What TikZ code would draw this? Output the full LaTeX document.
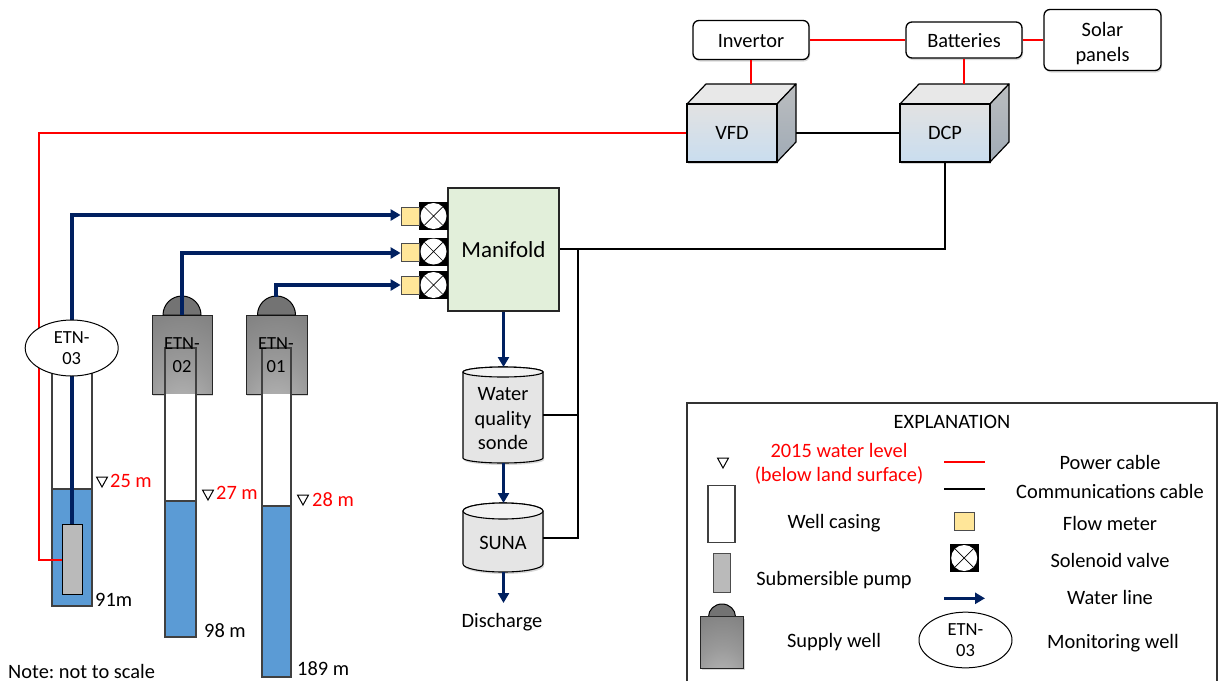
\documentclass[tikz,border=0pt]{standalone}
\usepackage{fontspec}
\setmainfont{Carlito}
\usetikzlibrary{arrows.meta,shapes.geometric,shadows}
\definecolor{waterline}{HTML}{002060}
\definecolor{waterfill}{HTML}{5B9BD5}
\definecolor{meterfill}{HTML}{FFE699}
\definecolor{manifoldfill}{HTML}{E2EFDA}
\definecolor{cubetop}{HTML}{E8E8E8}
\definecolor{cubefronta}{HTML}{E2E2E2}
\definecolor{cubefrontb}{HTML}{C9DDEF}
\definecolor{cubesidea}{HTML}{BBBDBF}
\definecolor{cubesideb}{HTML}{A0ABB6}
\definecolor{lred}{HTML}{FF0000}
\pgfdeclareradialshading{wellshade}{\pgfpoint{0bp}{-48bp}}{%
  color(0bp)=(black!24); color(30bp)=(black!40); color(60bp)=(black!52); color(100bp)=(black!60)}
\tikzset{
  softshadow/.style={drop shadow={shadow xshift=1pt,shadow yshift=-2pt,opacity=.3}},
  roundbox/.style={draw=black,line width=1.3pt,fill=white,rounded corners=6pt,inner sep=0pt,align=center,softshadow},
  txt/.style={inner sep=0pt,align=center,text height=13pt,text depth=0pt},
  multi/.style={inner sep=0pt,align=center},
  redtxt/.style={txt,text=lred},
  power/.style={draw=lred,line width=1.5pt},
  comm/.style={draw=black,line width=1.5pt},
  water/.style={draw=waterline,line width=3.2pt,-{Triangle[width=11pt,length=10pt]}},
  cubefront/.style={draw=black,line width=1.2pt,top color=cubefronta,bottom color=cubefrontb,inner sep=0pt,minimum width=90pt,minimum height=58pt,softshadow},
  casing/.style={draw=black!75,line width=1.1pt,inner sep=0pt},
  waterbox/.style={draw=black!75,line width=1.1pt,fill=waterfill,inner sep=0pt},
  pumpbox/.style={draw=black,line width=1pt,fill=black!27,inner sep=0pt},
  wellbox/.style={draw=black!85,line width=1pt,shading=wellshade,inner sep=0pt,softshadow},
  dome/.style={draw=black,line width=1pt,fill=black!55},
  metercell/.style={draw=black!70,line width=.8pt,fill=meterfill,inner sep=0pt},
  valvecell/.style={fill=black,inner sep=0pt,minimum width=29pt,minimum height=28pt},
  valvedisc/.style={circle,fill=white,inner sep=0pt,minimum size=26pt,
    path picture={\draw[line width=.7pt] (path picture bounding box.north west)--(path picture bounding box.south east)
      (path picture bounding box.north east)--(path picture bounding box.south west);}},
  wellellipse/.style={ellipse,draw=black,line width=1pt,fill=white,inner sep=0pt,align=center,font=\fontsize{18.5}{21.5}\selectfont},
  etnlabel/.style={inner sep=0pt,align=center,font=\fontsize{18.5}{23.5}\selectfont},
  levelmark/.style={draw=black,line width=1pt,fill=white,line join=miter},
  cyl/.style={draw=black,line width=1.1pt,fill=black!10},
}
\newcommand{\levelat}[2]{\draw[levelmark] (#1-5.5,#2-5) -- (#1+5.5,#2-5) -- (#1,#2+5) -- cycle;}
\newcommand{\cubesides}[1]{% #1 = left x of front
  \fill[cubetop,draw=black,line width=1.2pt,line join=round] (#1,104) -- (#1+19,84) -- (#1+109,84) -- (#1+90,104) -- cycle;
  \shade[top color=cubesidea,bottom color=cubesideb,draw=black,line width=1.2pt,line join=round] (#1+90,104) -- (#1+109,84) -- (#1+109,142) -- (#1+90,162) -- cycle;}
\frenchspacing
\begin{document}
\begin{tikzpicture}[x=1pt,y=-1pt,font=\fontsize{20.4}{24.5}\selectfont]
\useasboundingbox (0,0) rectangle (1218,681);

% ---- power & system boxes
\node[roundbox,text height=15pt,text depth=0pt,minimum width=116pt,minimum height=39pt] (inv) at (751,40) {Invertor};
\node[roundbox,text height=15pt,text depth=0pt,minimum width=116pt,minimum height=36pt] (bat) at (964,40) {Batteries};
\node[roundbox,minimum width=117pt,minimum height=61pt] (sol) at (1102.5,40) {};
\node[multi] (solt) at (1102.5,43.5) {Solar\\panels};

\cubesides{687}
\cubesides{900}
\node[cubefront] (vfd) at (732,133) {VFD};
\node[cubefront] (dcp) at (945,133) {DCP};
\coordinate (vfdtop) at (751,84);
\coordinate (vfdside) at (796,133);
\coordinate (dcptop) at (964,84);

% ---- manifold
\node[draw=black!85,line width=1.1pt,fill=manifoldfill,inner sep=0pt,minimum width=111pt,minimum height=123pt,font=\fontsize{23}{25}\selectfont] (man) at (503.5,249.5) {Manifold};
\node[valvecell] (v1) at (433.5,216) {};
\node[valvecell] (v2) at (433.5,251.5) {};
\node[valvecell] (v3) at (433.5,285) {};
\node[valvedisc] (d1) at (v1) {};
\node[valvedisc] (d2) at (v2) {};
\node[valvedisc] (d3) at (v3) {};
\node[metercell,minimum width=18pt,minimum height=18pt] (m1) at (410,216) {};
\node[metercell,minimum width=18pt,minimum height=18pt] (m2) at (410,252) {};
\node[metercell,minimum width=18pt,minimum height=18pt] (m3) at (410,285.5) {};

% ---- cylinders
\path[cyl,softshadow] (463,372) -- (463,458) arc[start angle=180,end angle=360,x radius=40pt,y radius=5pt] -- (543,372) arc[start angle=0,end angle=180,x radius=40pt,y radius=5pt] -- cycle;
\draw[line width=1.1pt,fill=white!95!black] (503,372) ellipse[x radius=40pt,y radius=5pt];
\node[multi,minimum width=80pt,minimum height=96pt] (sonde) at (503,419) {Water\\quality\\sonde};
\path[cyl,softshadow] (463,511) -- (463,564) arc[start angle=180,end angle=360,x radius=40pt,y radius=8pt] -- (543,511) arc[start angle=0,end angle=180,x radius=40pt,y radius=8pt] -- cycle;
\draw[line width=1.1pt,fill=white!95!black] (503,511) ellipse[x radius=40pt,y radius=8pt];
\node[txt,minimum width=80pt] (suna) at (503,543) {SUNA};
\coordinate (sondetop) at (503.5,367);
\coordinate (sondeleft) at (503.5,463);
\coordinate (sunatop) at (503.5,503);
\coordinate (sunabot) at (503.5,572);
\node[txt] (disc) at (502,621) {Discharge};
\coordinate (discend) at (503.5,603);
\coordinate (sondeport) at (543,415);
\coordinate (sunaport) at (543,538);

% ---- wells: casing, water
\node[casing,fill=white,minimum width=40pt,minimum height=236pt] (c3) at (72,488) {};
\node[waterbox,minimum width=40pt,minimum height=117pt] (w3) at (72,547.5) {};
\node[wellbox,minimum width=60pt,minimum height=79pt] (sw2) at (182,354.5) {};
\node[wellbox,minimum width=61pt,minimum height=79pt] (sw1) at (276.5,354.5) {};
\path[fill=white] (165,394) rectangle (196,501);
\path[fill=white] (262,394) rectangle (291,506);
\node[casing,minimum width=31pt,minimum height=289pt] (c2) at (180.5,492.5) {};
\node[casing,minimum width=29pt,minimum height=329pt] (c1) at (276.5,512.5) {};
\node[waterbox,minimum width=31pt,minimum height=136pt] (w2) at (180.5,569) {};
\node[waterbox,minimum width=29pt,minimum height=171pt] (w1) at (276.5,591.5) {};
\draw[dome] (163,315) arc[start angle=180,end angle=0,radius=19pt] -- cycle;
\draw[dome] (257.5,315) arc[start angle=180,end angle=0,radius=19pt] -- cycle;
\coordinate (dome2) at (182,315);
\coordinate (dome1) at (276,296.5);
\node[pumpbox,minimum width=20pt,minimum height=70pt] (pump) at (72,559.5) {};

% ---- cables
\draw[power] (inv.east) -- (bat.west);
\draw[power] (bat.east) -- (sol.west);
\draw[power] (inv.south) -- (vfdtop);
\draw[power] (bat.south) -- (dcptop);
\draw[power] (vfd.west) -- (39,133) -- (39,560) -- (pump.west |- 0,560);
\draw[comm] (vfdside) -- (dcp.west);
\draw[comm] (dcp.south) -- (945,249) -- (man.east |- 0,249);
\draw[comm] (578,249) -- (578,538) -- (sunaport);
\draw[comm] (578,415) -- (sondeport);

% ---- water lines
\draw[water] (pump.north) -- (72,215) -- (m1.west |- 0,215);
\draw[water] (dome2) -- (182,253) -- (m2.west |- 0,253);
\draw[water] (dome1) -- (276,285) -- (m3.west |- 0,285);
\draw[water] (man.south -| sondetop) -- (sondetop);
\draw[water] (sondeleft) -- (sunatop);
\draw[water] (sunabot) -- (discend);

% ---- well labels
\node[wellellipse,minimum width=93pt,minimum height=56pt] (e3) at (71.7,348) {ETN-\\03};
\node[etnlabel] (l2) at (182,355) {ETN-\\02};
\node[etnlabel] (l1) at (276,355) {ETN-\\01};
\levelat{102}{482}
\levelat{208}{495}
\levelat{303}{500}
\node[redtxt,anchor=west] (t25) at (110,481) {25 m};
\node[redtxt,anchor=west] (t27) at (216,493) {27 m};
\node[redtxt,anchor=west] (t28) at (312,500) {28 m};
\node[txt,anchor=west] (d91) at (95,600) {91m};
\node[txt,anchor=west] (d98) at (204,631) {98 m};
\node[txt,anchor=west] (d189) at (297,669) {189 m};
\node[txt,anchor=west] (note) at (8,671.5) {Note: not to scale};

% ---- legend
\draw[draw=black!80,line width=1.2pt] (687,681) -- (687,403) -- (1217,403) -- (1217,681);
\node[txt] (lt) at (952,421.7) {EXPLANATION};
\levelat{723}{463}
\node[multi,text=lred] (lwl) at (839,464) {2015 water level\\(below land surface)};
\node[casing,fill=white,minimum width=27pt,minimum height=57pt] (lc) at (721.5,514.2) {};
\node[txt] (lct) at (834,521.7) {Well casing};
\node[draw=black!70,line width=.9pt,fill=black!27,inner sep=0pt,minimum width=17pt,minimum height=39pt] (lp) at (721.5,573.3) {};
\node[txt] (lpt) at (834,578.7) {Submersible pump};
\draw[dome] (708.5,616.7) arc[start angle=180,end angle=0,x radius=13.5pt,y radius=12.7pt] -- cycle;
\node[wellbox,minimum width=43pt,minimum height=51.6pt] (lsw) at (722,642.5) {};
\node[txt] (lst) at (834,640.7) {Supply well};
\coordinate (lra) at (944,462);
\coordinate (lrb) at (985,462);
\draw[power] (lra) -- (lrb);
\coordinate (lka) at (944,489);
\coordinate (lkb) at (985,489);
\draw[comm] (lka) -- (lkb);
\node[metercell,minimum width=20pt,minimum height=18.7pt] (lm) at (964.5,521.3) {};
\node[valvecell] (lv) at (964.2,558) {};
\node[valvedisc] (lvd) at (lv) {};
\coordinate (lwa) at (944,598.3);
\coordinate (lwb) at (985,598.3);
\draw[water] (lwa) -- (lwb);
\node[wellellipse,minimum width=93pt,minimum height=55.7pt] (le) at (965.5,640) {ETN-\\03};
\node[txt] (lt1) at (1110,462.7) {Power cable};
\node[txt] (lt2) at (1110,492.3) {{\addfontfeatures{Ligatures=Rare}Communications cable}};
\node[txt] (lt3) at (1110,523.7) {Flow meter};
\node[txt] (lt4) at (1110,560.7) {Solenoid valve};
\node[txt] (lt5) at (1110,598) {Water line};
\node[txt] (lt6) at (1113,641.7) {Monitoring well};
\end{tikzpicture}
\end{document}
